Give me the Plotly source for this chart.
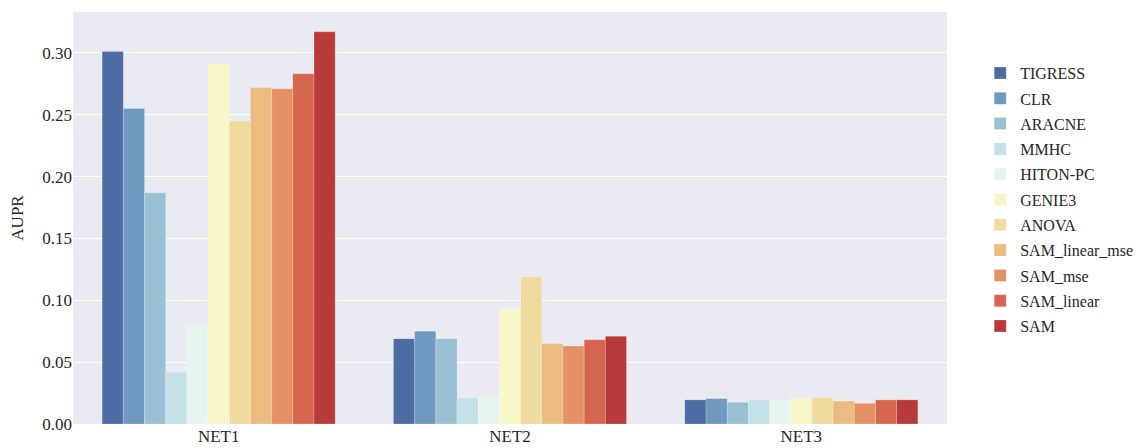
import plotly.graph_objects as go

networks = ["NET1", "NET2", "NET3"]
methods = ["TIGRESS", "CLR", "ARACNE", "MMHC", "HITON-PC", "GENIE3", "ANOVA",
           "SAM_linear_mse", "SAM_mse", "SAM_linear", "SAM"]
colors = ["#4c6ca3", "#6f99be", "#99c0d3", "#c4e1e8", "#e6f3ef", "#f7f6c6",
          "#f0dca0", "#ebbb80", "#e49265", "#d6654f", "#b93a3b"]

# AUPR per method, in order NET1, NET2, NET3
aupr = {
    "TIGRESS":        [0.301, 0.069, 0.0195],
    "CLR":            [0.255, 0.075, 0.0205],
    "ARACNE":         [0.187, 0.069, 0.0175],
    "MMHC":           [0.042, 0.021, 0.0195],
    "HITON-PC":       [0.080, 0.021, 0.0195],
    "GENIE3":         [0.291, 0.093, 0.0205],
    "ANOVA":          [0.245, 0.119, 0.0215],
    "SAM_linear_mse": [0.272, 0.065, 0.0185],
    "SAM_mse":        [0.271, 0.063, 0.0167],
    "SAM_linear":     [0.283, 0.068, 0.0195],
    "SAM":            [0.317, 0.071, 0.0195],
}

font = "Liberation Serif, DejaVu Serif, serif"

fig = go.Figure()
for m, c in zip(methods, colors):
    fig.add_trace(go.Bar(x=networks, y=aupr[m], name=m, legendgroup=m,
                         marker=dict(color=c, line=dict(width=0.6, color="rgba(255,255,255,0.35)"))))

# page body has an 8px margin, so the figure is 8px smaller and margins shifted
fig.update_layout(
    width=1139, height=440,
    barmode="group", bargap=0.2, bargroupgap=0,
    plot_bgcolor="#EAEAF2", paper_bgcolor="white",
    margin=dict(l=65, r=200, t=4, b=24, autoexpand=False),
    font=dict(family=font, size=17, color="#262626"),
    legend=dict(x=1.038, y=0.893, xanchor="left", yanchor="top",
                font=dict(family=font, size=16, color="#262626"),
                tracegroupgap=1.5, bgcolor="rgba(0,0,0,0)"),
    showlegend=True,
)
fig.update_xaxes(showgrid=False, ticks="", showline=False, zeroline=False,
                 automargin=False, tickfont=dict(size=17))
fig.update_yaxes(range=[0, 0.333], dtick=0.05, tickformat=".2f", gridcolor="white",
                 gridwidth=1.2, zeroline=False, showline=False, ticks="",
                 automargin=False, title=dict(text="AUPR", standoff=16, font=dict(size=17)),
                 tickfont=dict(size=17))

fig.write_html("out.html")
